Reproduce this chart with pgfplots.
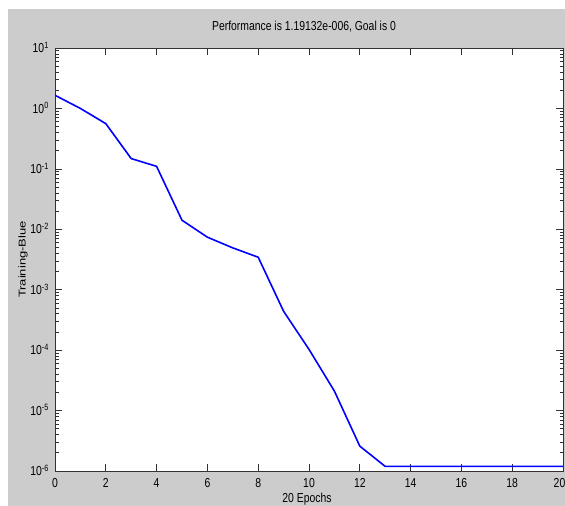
\documentclass[border=0pt]{standalone}
\usepackage{graphicx}
\usepackage{pgfplots}
\pgfplotsset{compat=1.18}
\usepackage{fontspec}
\setmainfont[FakeStretch=0.8]{Liberation Sans}
\newfontfamily\labelfont{Liberation Sans}
\definecolor{figgray}{RGB}{204,204,204}
\definecolor{axgray}{RGB}{50,50,50}
\begin{document}
\fontsize{13bp}{15bp}\selectfont
\begin{tikzpicture}
\useasboundingbox (-55bp,-35bp) rectangle (510bp,471bp);
\fill[white] (-55bp,-35bp) rectangle (510bp,471bp);
\fill[figgray] (-47bp,-35bp) rectangle (510bp,462bp);
\begin{axis}[
  at={(0,0)}, anchor=south west,
  scale only axis, width=508bp, height=423bp,
  xmin=0, xmax=20, ymode=log, ymin=1e-6, ymax=10,
  xtick={0,2,...,20},
  xticklabels={0,2,4,6,8,10,12,14,16,18,{20\kern7bp}},
  ytick={1e-6,1e-5,1e-4,1e-3,1e-2,1e-1,1,10},
  yticklabels={10\textsuperscript{-6},10\textsuperscript{-5},10\textsuperscript{-4},10\textsuperscript{-3},10\textsuperscript{-2},10\textsuperscript{-1},10\textsuperscript{0},10\textsuperscript{1}},
  axis background/.style={fill=white},
  axis line style={axgray, line width=0.8bp},
  every tick/.style={axgray, line width=0.7bp},
  major tick length=7bp, minor tick length=3.5bp,
  tick align=inside,
  /pgf/number format/assume math mode=true,
  every tick label/.append style={font=\fontsize{13bp}{15bp}\selectfont},
  xticklabel style={anchor=base, yshift=-16bp, inner sep=0pt},
  yticklabel style={anchor=base east, inner sep=0pt, xshift=-6bp, yshift=-4.7bp},
  title={Performance is 1.19132e-006, Goal is 0},
  title style={at={(axis description cs:0.5,1)}, anchor=base, yshift=12bp, xshift=-5bp, inner sep=0pt, font=\fontsize{13bp}{15bp}\selectfont},
  xlabel={20 Epochs},
  xlabel style={at={(axis description cs:0.5,0)}, anchor=base, yshift=-31bp, xshift=-2bp, inner sep=0pt, font=\fontsize{13bp}{15bp}\selectfont},
  ylabel={\labelfont\scalebox{1}[0.76]{Training-Blue}},
  ylabel style={at={(axis description cs:0,0.5)}, anchor=center, yshift=32bp, font=\fontsize{13bp}{15bp}\selectfont},
]
\addplot[color={rgb,255:red,0;green,0;blue,255}, line width=1.6bp, line join=round] coordinates {
(0,1.65) (1,1.0) (2,0.56) (3,0.148) (4,0.110) (5,0.0141) (6,0.0074) (7,0.00492) (8,0.00345)
(9,4.4e-4) (10,1.03e-4) (11,2.1e-5) (12,2.58e-6) (13,1.19132e-6) (14,1.19132e-6) (15,1.19132e-6)
(16,1.19132e-6) (17,1.19132e-6) (18,1.19132e-6) (19,1.19132e-6) (20,1.19132e-6)
};
\end{axis}
\end{tikzpicture}
\end{document}
